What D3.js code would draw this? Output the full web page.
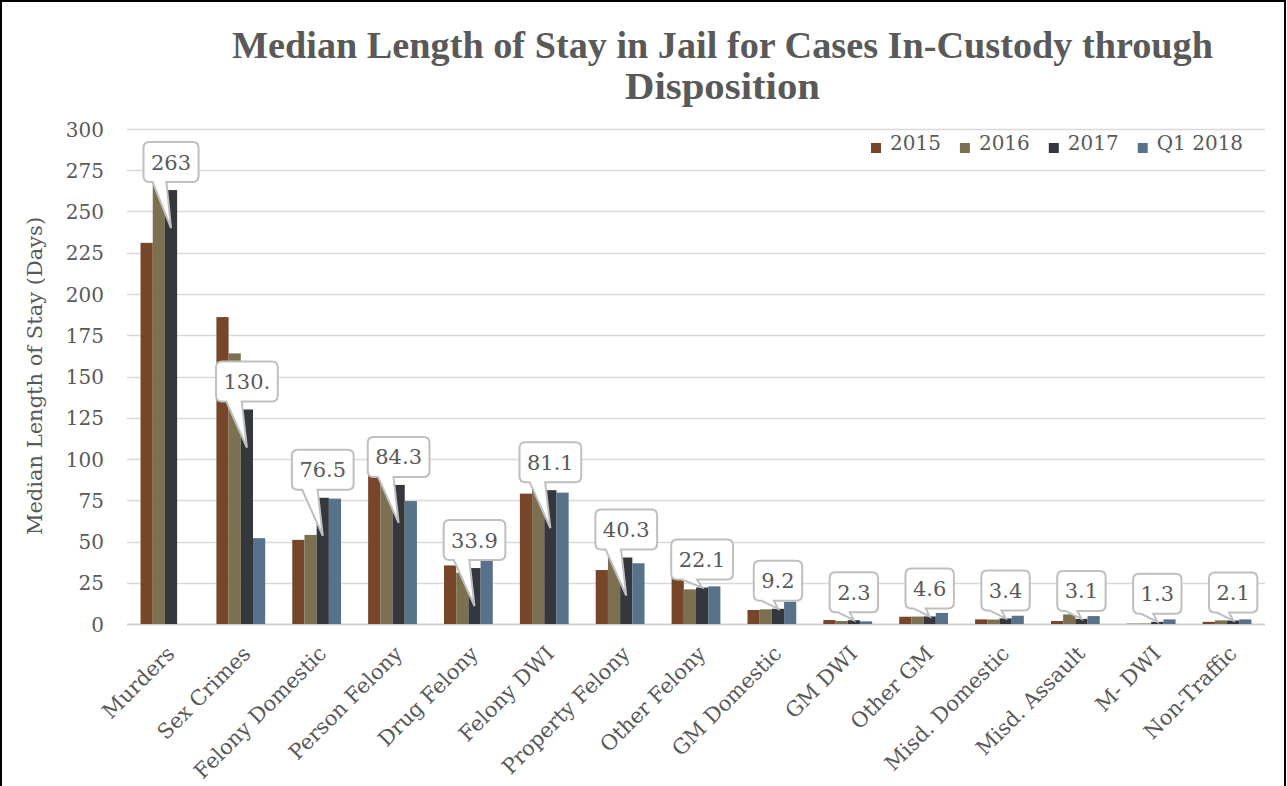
<!DOCTYPE html>
<html>
<head>
<meta charset="utf-8">
<script src="https://cdn.jsdelivr.net/npm/d3@7"></script>
<style>
  html, body { margin: 0; padding: 0; background: #fff; }
  svg { display: block; }
</style>
</head>
<body>
<svg id="chart" width="1287" height="786"></svg>
<script>
// Offence categories along the x axis
const categories = ["Murders", "Sex Crimes", "Felony Domestic", "Person Felony", "Drug Felony",
  "Felony DWI", "Property Felony", "Other Felony", "GM Domestic", "GM DWI", "Other GM",
  "Misd. Domestic", "Misd. Assault", "M- DWI", "Non-Traffic"];

const seriesNames = ["2015", "2016", "2017", "Q1 2018"];

// Median length of stay (days) per category
const values2015 = [231, 186, 51, 93, 35.5, 79, 32.7, 33.7, 8.5, 2.4, 4.4, 2.8, 1.8, 0.2, 1.3];
const values2016 = [270, 164, 54, 89, 31, 86, 40, 21, 8.9, 1.8, 4.5, 2.7, 5.8, 0.3, 2.2];
const values2017 = [263, 130, 76.5, 84.3, 33.9, 81.1, 40.3, 22.1, 9.2, 2.3, 4.6, 3.4, 3.1, 1.3, 2.1];
const valuesQ12018 = [null, 52, 76, 74.5, 38.4, 79.6, 36.8, 22.8, 13.5, 1.6, 6.7, 5, 4.8, 2.8, 2.8];

// Callout text shown on the 2017 bars
const labels2017 = ["263", "130.", "76.5", "84.3", "33.9", "81.1", "40.3", "22.1", "9.2", "2.3", "4.6", "3.4", "3.1", "1.3", "2.1"];

const yTicks = [0, 25, 50, 75, 100, 125, 150, 175, 200, 225, 250, 275, 300];

const titleLines = ["Median Length of Stay in Jail for Cases In-Custody through", "Disposition"];
const yTitle = "Median Length of Stay (Days)";

const colors = ["#76452A", "#7B7150", "#34373C", "#58728C"];
const seriesValues = [values2015, values2016, values2017, valuesQ12018];

const textColor = "#595959";
const font = "'DejaVu Serif', serif";

const svg = d3.select("#chart");
svg.append("rect").attr("width", 1287).attr("height", 786).attr("fill", "#fff");

const plot = { left: 127, right: 1265, top: 129, bottom: 624 };

const x = d3.scaleBand().domain(categories).range([plot.left, plot.right]).paddingInner(0).paddingOuter(0);
const groupW = x.bandwidth() * 0.643;
const xs = d3.scaleBand().domain(seriesNames).range([0, groupW]).padding(0);
const y = d3.scaleLinear().domain([0, 300]).range([plot.bottom, plot.top]);

// Gridlines
svg.append("g").selectAll("line").data(yTicks).join("line")
  .attr("x1", plot.left).attr("x2", plot.right)
  .attr("y1", d => Math.round(y(d)) + 0.5).attr("y2", d => Math.round(y(d)) + 0.5)
  .attr("stroke", d => d === 0 ? "#cfcfcf" : "#d9d9d9").attr("stroke-width", d => d === 0 ? 2 : 1.5);

// Y axis labels
const yAxis = d3.axisLeft(y).tickValues(yTicks).tickSize(0).tickPadding(0);
const yg = svg.append("g").attr("transform", "translate(104,0)").call(yAxis);
yg.select(".domain").remove();
yg.selectAll("text").attr("font-family", font).attr("font-size", 20).attr("fill", textColor).attr("dy", "0.35em");

// Y axis title
svg.append("text")
  .attr("transform", "translate(42,376) rotate(-90)")
  .attr("text-anchor", "middle")
  .attr("font-family", font).attr("font-size", 21).attr("fill", textColor)
  .text(yTitle);

// Bars
const groups = svg.append("g").selectAll("g").data(categories).join("g")
  .attr("transform", c => `translate(${x(c) + (x.bandwidth() - groupW) / 2},0)`);
groups.selectAll("rect").data((c, i) => seriesNames.map((s, j) => ({ s, j, v: seriesValues[j][i] })).filter(d => d.v != null))
  .join("rect")
  .attr("x", d => xs(d.s))
  .attr("width", xs.bandwidth())
  .attr("y", d => y(d.v))
  .attr("height", d => y(0) - y(d.v))
  .attr("fill", d => colors[d.j]);

// X axis labels
const xg = svg.append("g");
categories.forEach(c => {
  const cx = x(c) + x.bandwidth() / 2;
  xg.append("text")
    .attr("transform", `translate(${cx + 11},655) rotate(-45)`)
    .attr("text-anchor", "end")
    .attr("font-family", font).attr("font-size", 21).attr("fill", textColor)
    .text(c);
});

// Callouts on the 2017 bars
const calloutLayer = svg.append("g");
categories.forEach((c, i) => {
  const v = values2017[i];
  const bx = x(c) + (x.bandwidth() - groupW) / 2 + xs("2017") + xs.bandwidth() / 2;
  const top = y(v);
  const tipY = top + 38 <= plot.bottom ? top + 38 : top;
  const g = calloutLayer.append("g");
  const path = g.append("path");
  const t = g.append("text")
    .attr("font-family", font).attr("font-size", 21).attr("fill", textColor)
    .attr("text-anchor", "middle")
    .text(labels2017[i]);
  const tw = t.node().getComputedTextLength();
  const w = tw + 15, h = 40, r = 6;
  const x0 = bx - w / 2, y0 = top - 8 - h;
  t.attr("x", bx).attr("y", y0 + h / 2).attr("dy", "0.36em");
  const b1 = x0 + w * 2 / 12, b2 = x0 + w * 5 / 12;
  const yb = y0 + h;
  const d = `M${x0 + r},${y0} H${x0 + w - r} Q${x0 + w},${y0} ${x0 + w},${y0 + r} V${yb - r} Q${x0 + w},${yb} ${x0 + w - r},${yb} H${b2} L${bx},${tipY} L${b1},${yb} H${x0 + r} Q${x0},${yb} ${x0},${yb - r} V${y0 + r} Q${x0},${y0} ${x0 + r},${y0} Z`;
  path.attr("d", d).attr("fill", "#fff").attr("stroke", "#bfbfbf").attr("stroke-width", 2);
});

// Legend
let lx = 871;
const legend = svg.append("g");
seriesNames.forEach((s, j) => {
  legend.append("rect").attr("x", lx).attr("y", 143).attr("width", 10).attr("height", 10).attr("fill", colors[j]);
  const t = legend.append("text").attr("x", lx + 19).attr("y", 150)
    .attr("font-family", font).attr("font-size", 20).attr("fill", textColor).text(s);
  lx += 19 + t.node().getComputedTextLength() + 19;
});

// Title
titleLines.forEach((line, k) => {
  const t = svg.append("text")
    .attr("x", 722.5).attr("y", k === 0 ? 58 : 99)
    .attr("text-anchor", "middle")
    .attr("font-family", "'Liberation Serif', serif").attr("font-weight", "bold")
    .attr("font-size", 37).attr("fill", textColor)
    .text(line);
  if (k === 0) t.attr("textLength", 981).attr("lengthAdjust", "spacingAndGlyphs");
  else t.attr("textLength", 195).attr("lengthAdjust", "spacingAndGlyphs");
});

// Frame
svg.append("rect").attr("x", 1).attr("y", 1).attr("width", 1284).attr("height", 800)
  .attr("fill", "none").attr("stroke", "#000").attr("stroke-width", 2);
</script>
</body>
</html>
